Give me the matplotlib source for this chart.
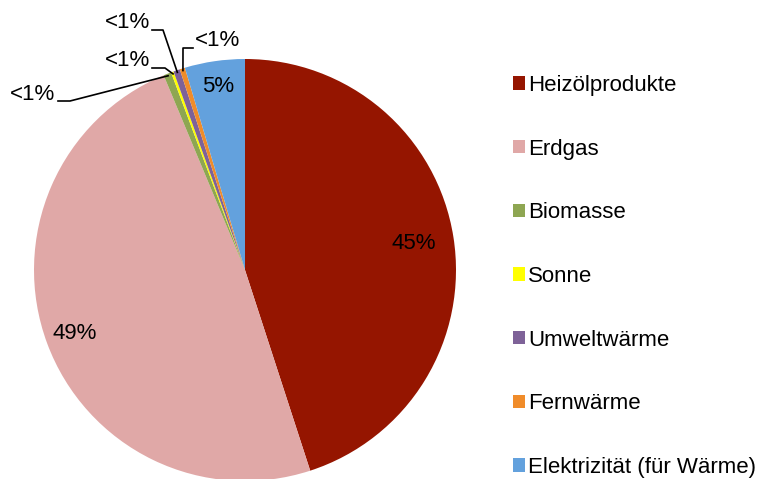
import numpy as np
import matplotlib
matplotlib.use("Agg")
import matplotlib.pyplot as plt
from matplotlib.patches import Patch

plt.rcParams["font.family"] = ["Liberation Sans", "DejaVu Sans"]

CATEGORIES = ["Heizölprodukte", "Erdgas", "Biomasse", "Sonne", "Umweltwärme",
              "Fernwärme", "Elektrizität (für Wärme)"]
SHARES = [45.0, 48.7, 0.6, 0.2, 0.5, 0.4, 4.6]
COLORS = ["#951500", "#E0A8A7", "#8EA652", "#FFFF00", "#7E6298", "#F08C2A", "#63A1DD"]

W, H = 757, 479
CX, CY, R = 245, 270, 211
FS = 16


def px(x, y):
    """pixel position -> pie data coordinates"""
    return (x - CX) / R, (CY - y) / R


fig = plt.figure(figsize=(W / 100, H / 100), dpi=100)
ax = fig.add_axes([(CX - R) / W, (H - CY - R) / H, 2 * R / W, 2 * R / H])


def fmt(p):
    return f"{p:.0f}%" if p >= 1 else ""


wedges, texts, autotexts = ax.pie(
    SHARES, colors=COLORS, startangle=90, counterclock=False,
    autopct=fmt, pctdistance=0.84,
    wedgeprops=dict(linewidth=0),
    textprops=dict(fontsize=FS, color="black"),
)
ax.set_xlim(-1, 1)
ax.set_ylim(-1, 1)
ax.set_aspect("equal")
ax.axis("off")

# nudge the big-slice labels toward where the original puts them
for t, r in zip(autotexts, [0.81, 0.86, 0, 0, 0, 0, 0.88]):
    if r:
        x, y = t.get_position()
        d = np.hypot(x, y)
        t.set_position((x * r / d, y * r / d))

# leader lines for the small slices: (label pos, align, start of line, elbow)
leaders = {
    2: ((55, 94), "right", (58, 101), (70, 101)),
    3: ((150, 61), "right", (152, 68), (165, 68)),
    4: ((150, 23), "right", (152, 30), (163, 30)),
    5: ((195, 41), "left", (193, 48), (183, 48)),
}
for idx, (lab, ha, start, elbow) in leaders.items():
    w = wedges[idx]
    mid = np.deg2rad((w.theta1 + w.theta2) / 2)
    edge = (0.99 * np.cos(mid), 0.99 * np.sin(mid))
    s = px(*start)
    e = px(*elbow)
    ax.plot([s[0], e[0], edge[0]], [s[1], e[1], edge[1]], color="black",
            linewidth=1.2, clip_on=False)
    lx, ly = px(*lab)
    ax.text(lx, ly, "<1%", ha=ha, va="center", fontsize=FS)

handles = [Patch(facecolor=c, edgecolor="none") for c in COLORS]
fig.legend(handles, CATEGORIES, loc="upper left", bbox_to_anchor=(504 / W, 1 - 66 / H),
           frameon=False, fontsize=FS, handlelength=0.55, handleheight=0.55,
           handletextpad=0.12, labelspacing=1.92, borderaxespad=0)

fig.savefig("out.png", dpi=100)
